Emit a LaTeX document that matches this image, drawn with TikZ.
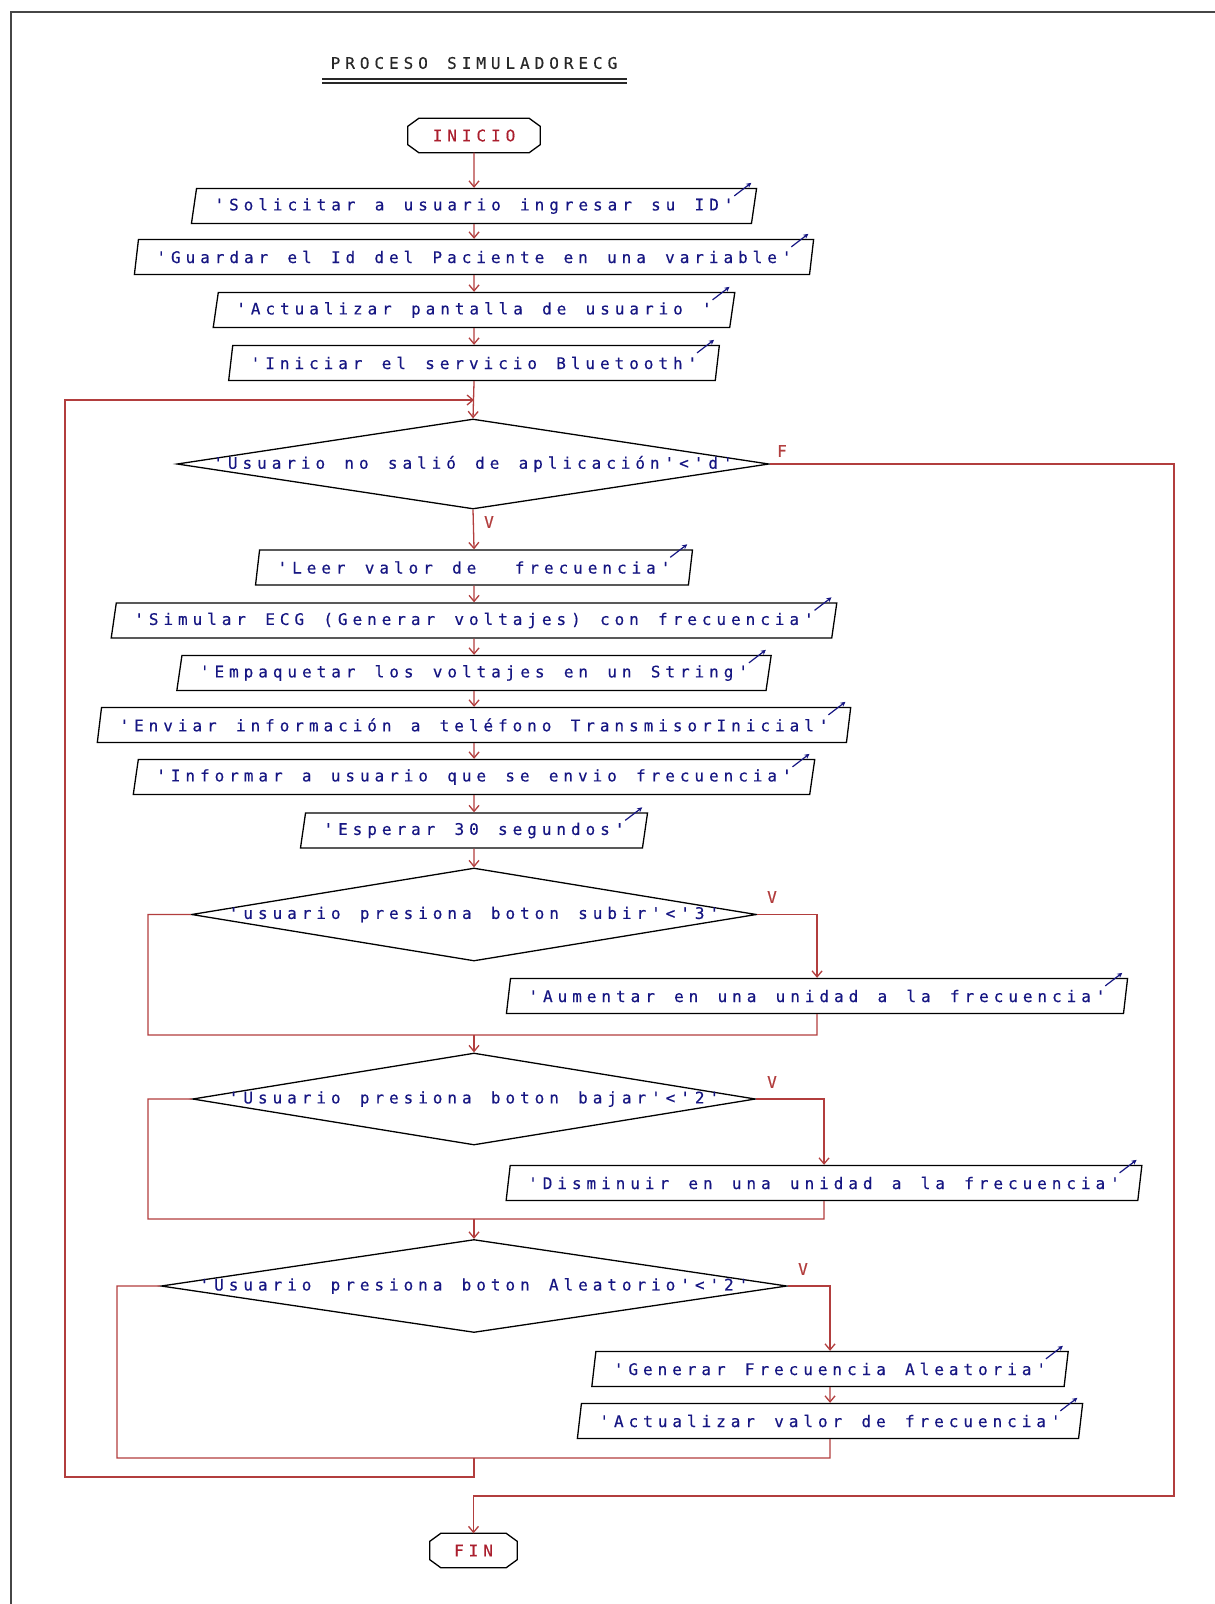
\documentclass[tikz,border=0pt]{standalone}
\usepackage{fontspec}
\usetikzlibrary{shapes.geometric,arrows.meta,calc}
\newfontfamily\flowfont{DejaVu Sans Mono}[LetterSpace=31,WordSpace=1.32,FakeBold=0.4,Ligatures=TeXOff]
\definecolor{flowred}{RGB}{178,62,62}
\definecolor{txtblue}{RGB}{22,22,130}
\definecolor{termred}{RGB}{170,30,45}
\definecolor{framegray}{RGB}{70,70,70}
\definecolor{titlegray}{RGB}{40,40,40}

% octagonal outline of a start/end node
\newcommand\chamferbox[1]{%
  \draw[boxline] ($(#1.north west)+(11,0)$) -- ($(#1.north east)+(-11,0)$)
    -- ($(#1.north east)+(0,8)$) -- ($(#1.south east)+(0,-8)$)
    -- ($(#1.south east)+(-11,0)$) -- ($(#1.south west)+(11,0)$)
    -- ($(#1.south west)+(0,-8)$) -- ($(#1.north west)+(0,8)$) -- cycle;}
% small output mark at the top right corner of a data box
\newcommand\outmark[1]{%
  \draw[outarrow] ($(#1.top right corner)+(-23,8)$) -- ($(#1.top right corner)+(-6,-5)$);}

\begin{document}
\begin{tikzpicture}[x=1pt,y=-1pt,
  every node/.style={font=\flowfont\fontsize{16}{19}\selectfont},
  boxline/.style={draw=black, line width=1.3pt},
  iobox/.style={trapezium, trapezium left angle=72, trapezium right angle=108,
    trapezium stretches=true,
    boxline, inner xsep=18pt, inner ysep=0pt, minimum height=35pt, text=txtblue},
  decision/.style={diamond, boxline, inner sep=0pt},
  dtext/.style={text=txtblue, inner sep=0pt},
  terminal/.style={rectangle, inner sep=0pt, minimum height=34pt, text=termred},
  flow/.style={draw=flowred, line width=1.3pt},
  flowarrow/.style={flow, -{Straight Barb[length=6pt,width=10pt]}},
  branchlbl/.style={text=flowred, inner sep=0pt},
  outarrow/.style={draw=txtblue, line width=1.2pt, -{Stealth[length=5pt,width=5pt]}},
]
\useasboundingbox (0,0) rectangle (1215,1604);

% page frame
\draw[framegray, line width=2pt] (11,1604) -- (11,12) -- (1215,12);

% title
\node[text=titlegray] (title) at (474,63) {PROCESO SIMULADORECG};
\draw[titlegray, line width=1.2pt] (322,79) -- (627,79);
\draw[titlegray, line width=1.2pt] (322,83) -- (627,83);

% start
\node[terminal, minimum width=132pt] (ini) at (474,135.5) {INICIO};
\chamferbox{ini}

% initial sequence
\node[iobox] (s1) at (474,206) {'Solicitar a usuario ingresar su ID'};
\node[iobox] (s2) at (474,257) {'Guardar el Id del Paciente en una variable'};
\node[iobox] (s3) at (474,310) {'Actualizar pantalla de usuario '};
\node[iobox] (s4) at (474,363) {'Iniciar el servicio Bluetooth'};
\coordinate (jn) at (474,400);

% main loop condition
\node[decision, minimum width=592pt, minimum height=90pt] (d1) at (473,464) {};
\node[dtext] (d1t) at (d1.center) {'Usuario no salió de aplicación'<'d'};

% loop body
\node[iobox] (l1) at (474,567.5) {'Leer valor de\ \ frecuencia'};
\node[iobox] (l2) at (474,620.5) {'Simular ECG (Generar voltajes) con frecuencia'};
\node[iobox] (l3) at (474,673) {'Empaquetar los voltajes en un String'};
\node[iobox] (l4) at (474,725) {'Enviar información a teléfono TransmisorInicial'};
\node[iobox] (l5) at (474,777) {'Informar a usuario que se envio frecuencia'};
\node[iobox] (l6) at (474,830.5) {'Esperar 30 segundos'};

% button: up
\node[decision, minimum width=565pt, minimum height=93pt] (d2) at (474,914.5) {};
\node[dtext] (d2t) at (d2.center) {'usuario presiona boton subir'<'3'};
\node[iobox] (a1) at (817,996) {'Aumentar en una unidad a la frecuencia'};

% button: down
\node[decision, minimum width=563pt, minimum height=92pt] (d3) at (474,1099) {};
\node[dtext] (d3t) at (d3.center) {'Usuario presiona boton bajar'<'2'};
\node[iobox] (b1) at (824,1183) {'Disminuir en una unidad a la frecuencia'};

% button: random
\node[decision, minimum width=626pt, minimum height=93pt] (d4) at (474,1286) {};
\node[dtext] (d4t) at (d4.center) {'Usuario presiona boton Aleatorio'<'2'};
\node[iobox] (g1) at (830,1369) {'Generar Frecuencia Aleatoria'};
\node[iobox] (g2) at (830,1421) {'Actualizar valor de frecuencia'};

% end
\node[terminal, minimum width=87pt] (fin) at (473.5,1550.5) {FIN};
\chamferbox{fin}

% output marks
\foreach \n in {s1,s2,s3,s4,l1,l2,l3,l4,l5,l6,a1,b1,g1,g2} {\outmark{\n}}

% junction points
\coordinate (m2) at (474,1035);  \coordinate (m2l) at (148,1035); \coordinate (m2r) at (817,1035);
\coordinate (m3) at (474,1219);  \coordinate (m3l) at (148,1219); \coordinate (m3r) at (824,1219);
\coordinate (m4) at (474,1458);  \coordinate (m4l) at (117,1458); \coordinate (m4r) at (830,1458);
\coordinate (lp) at (474,1477);  \coordinate (lpl) at (65,1477);
\coordinate (ex) at (1174,1496);

% connectors
\draw[flowarrow] (ini.south) -- (s1.north);
\draw[flowarrow] (s1.south) -- (s2.north);
\draw[flowarrow] (s2.south) -- (s3.north);
\draw[flowarrow] (s3.south) -- (s4.north);
\draw[flowarrow] (s4.south) -- (d1.north);
\draw[flowarrow] (d1.south) -- (l1.north);
\draw[flowarrow] (l1.south) -- (l2.north);
\draw[flowarrow] (l2.south) -- (l3.north);
\draw[flowarrow] (l3.south) -- (l4.north);
\draw[flowarrow] (l4.south) -- (l5.north);
\draw[flowarrow] (l5.south) -- (l6.north);
\draw[flowarrow] (l6.south) -- (d2.north);

\draw[flowarrow] (d2.east) -| (a1.north);
\draw[flow] (d2.west) -| (m2l) -- (m2r) -- (a1.south);
\draw[flowarrow] (m2) -- (d3.north);

\draw[flowarrow] (d3.east) -| (b1.north);
\draw[flow] (d3.west) -| (m3l) -- (m3r) -- (b1.south);
\draw[flowarrow] (m3) -- (d4.north);

\draw[flowarrow] (d4.east) -| (g1.north);
\draw[flowarrow] (g1.south) -- (g2.north);
\draw[flow] (d4.west) -| (m4l) -- (m4r) -- (g2.south);

\draw[flowarrow] (m4) -- (lp) -- (lpl) |- (jn);
\draw[flowarrow] (d1.east) -| (ex) -| (fin.north);

% branch labels
\node[branchlbl] (fl) at (782,451) {F};
\node[branchlbl] (v1) at (489,522) {V};
\node[branchlbl] (v2) at (772,897) {V};
\node[branchlbl] (v3) at (772,1082) {V};
\node[branchlbl] (v4) at (803,1269) {V};
\end{tikzpicture}
\end{document}
